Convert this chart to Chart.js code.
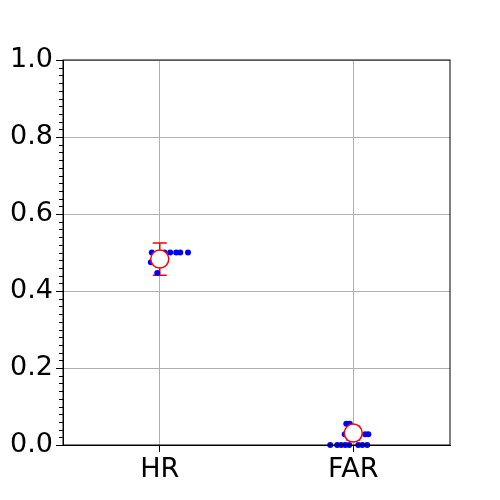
<!DOCTYPE html>
<html>
<head>
<meta charset="utf-8">
<script src="https://cdn.jsdelivr.net/npm/chart.js@4/dist/chart.umd.min.js"></script>
<style>
  html, body { margin: 0; padding: 0; background: #fff; }
  #wrap { width: 500px; height: 500px; }
</style>
</head>
<body>
<div id="wrap"><canvas id="chart" width="500" height="500"></canvas></div>
<script>
/* ── Data ─────────────────────────────── */
const categories = ['HR', 'FAR'];
const yTicks = [0, 0.2, 0.4, 0.6, 0.8, 1.0];

// individual scores (blue dots) and their horizontal jitter
const hrValues = [0.50, 0.475, 0.447, 0.50, 0.50, 0.50, 0.50, 0.50];
const hrJitter = [-0.041, -0.046, -0.013, 0.024, 0.054, 0.085, 0.106, 0.146];
const farValues = [0.055, 0.055, 0.028, 0.028, 0.028, 0, 0, 0, 0, 0, 0, 0, 0];
const farJitter = [-0.036, -0.018, -0.044, 0.062, 0.078, -0.119, -0.083, -0.062, -0.041, -0.021, 0.026, 0.047, 0.072];

// mean and spread (red circle + error bar)
const means = [0.483, 0.031];
const spreads = [0.042, 0.018];

/* ── Helpers ──────────────────────────── */
const font = { family: '"DejaVu Sans", sans-serif', size: 27 };
const gridGray = '#b0b0b0';

const dots = [];
[hrValues, farValues].forEach((vals, i) => {
    const jit = i === 0 ? hrJitter : farJitter;
    vals.forEach((v, k) => dots.push({ x: i + jit[k], y: v }));
});
const meanPts = means.map((m, i) => ({ x: i, y: m }));

const errorBars = {
    id: 'errorBars',
    beforeDatasetsDraw(chart) {
        const { ctx, scales: { x, y } } = chart;
        ctx.save();
        ctx.strokeStyle = '#ff0000';
        ctx.lineWidth = 1.5;
        means.forEach((m, i) => {
            const px = x.getPixelForValue(i);
            const top = y.getPixelForValue(m + spreads[i]);
            const bot = y.getPixelForValue(m - spreads[i]);
            ctx.beginPath();
            ctx.moveTo(px, top); ctx.lineTo(px, bot);
            ctx.moveTo(px - 7, top); ctx.lineTo(px + 7, top);
            ctx.moveTo(px - 7, bot); ctx.lineTo(px + 7, bot);
            ctx.stroke();
        });
        ctx.restore();
    },
};

const frame = {
    id: 'frame',
    afterDraw(chart) {
        const { ctx, chartArea: a, scales: { y } } = chart;
        ctx.save();
        ctx.strokeStyle = '#000';
        ctx.lineWidth = 1;
        ctx.strokeRect(a.left, a.top, a.right - a.left, a.bottom - a.top);
        // minor ticks on y every 0.02
        ctx.beginPath();
        for (let k = 0; k <= 50; k++) {
            if (k % 10 === 0) continue;
            const py = Math.round(y.getPixelForValue(k / 50)) + 0.5;
            ctx.moveTo(a.left - 4, py);
            ctx.lineTo(a.left, py);
        }
        ctx.stroke();
        ctx.restore();
    },
};

/* ── Chart ────────────────────────────── */
new Chart(document.getElementById('chart'), {
    type: 'scatter',
    data: {
        datasets: [
            {
                data: meanPts,
                pointRadius: 9,
                pointBackgroundColor: '#ffffff',
                pointBorderColor: '#ff0000',
                pointBorderWidth: 1.5,
                order: 1,
                clip: false,
            },
            {
                data: dots,
                pointRadius: 3,
                pointBackgroundColor: '#0000ff',
                pointBorderColor: '#0000ff',
                pointBorderWidth: 0,
                order: 2,
                clip: false,
            },
        ],
    },
    options: {
        responsive: false,
        animation: false,
        devicePixelRatio: 1,
        layout: {
            padding: { left: 0, right: 50, top: 60, bottom: 0 },
        },
        plugins: {
            legend: { display: false },
            tooltip: { enabled: false },
        },
        scales: {
            x: {
                type: 'linear',
                min: -0.5,
                max: 1.5,
                afterBuildTicks: (s) => { s.ticks = categories.map((c, i) => ({ value: i })); },
                afterFit: (s) => { s.height = 55; },
                grid: {
                    color: gridGray,
                    lineWidth: 1,
                    tickColor: '#000',
                    tickLength: 7,
                },
                border: { color: '#000', width: 1 },
                ticks: {
                    color: '#000',
                    font,
                    padding: 2,
                    maxRotation: 0,
                    callback: (v) => categories[v],
                },
            },
            y: {
                min: 0,
                max: 1,
                afterBuildTicks: (s) => { s.ticks = yTicks.map((v) => ({ value: v })); },
                afterFit: (s) => { s.width = 63; },
                grid: {
                    color: gridGray,
                    lineWidth: 1,
                    tickColor: '#000',
                    tickLength: 7,
                },
                border: { color: '#000', width: 1 },
                ticks: {
                    color: '#000',
                    font,
                    padding: 3,
                    callback: (v) => v.toFixed(1),
                },
            },
        },
    },
    plugins: [errorBars, frame],
});
</script>
</body>
</html>
